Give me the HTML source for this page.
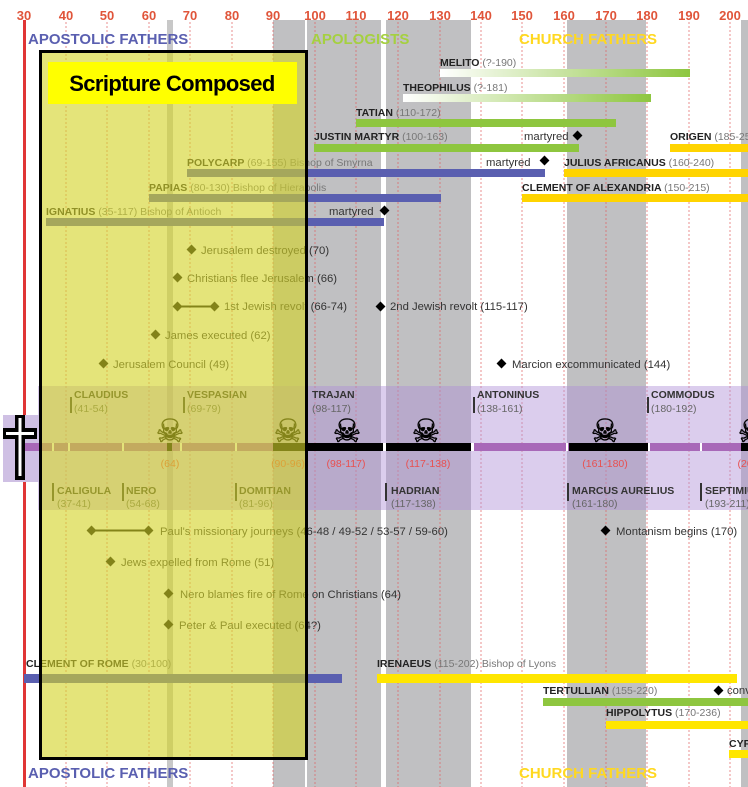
<!DOCTYPE html>
<html><head><meta charset="utf-8"><style>
html,body{margin:0;padding:0;background:#fff;width:748px;height:787px;overflow:hidden}
svg{display:block;font-family:"Liberation Sans",sans-serif}
.n{font-size:10.5px;font-weight:bold;fill:#222}
.d{font-weight:normal;fill:#777}
.e{font-size:11.3px;fill:#333}
.emp{font-size:10.5px;font-weight:bold;fill:#333}
.ed{font-size:10.5px;fill:#666}
.yr{font-size:13px;font-weight:bold;fill:#e0553a}
.pr{font-size:10.5px;fill:#e85050}
</style></head><body>
<svg width="748" height="787" viewBox="0 0 748 787" xmlns="http://www.w3.org/2000/svg">
<g fill="#c0c0c2">
<rect x="273" y="20" width="32" height="767"/>
<rect x="307" y="20" width="74" height="767"/>
<rect x="386" y="20" width="85" height="767"/>
<rect x="567" y="20" width="79" height="767"/>
<rect x="741" y="20" width="7" height="767"/>
</g>
<rect x="167" y="20" width="6" height="767" fill="#c8c8c8"/>
<g stroke="#e06060" stroke-width="1" stroke-dasharray="2,2" opacity="0.7">
<line x1="66" y1="22" x2="66" y2="787"/><line x1="107" y1="22" x2="107" y2="787"/>
<line x1="149" y1="22" x2="149" y2="787"/><line x1="190" y1="22" x2="190" y2="787"/>
<line x1="232" y1="22" x2="232" y2="787"/><line x1="273" y1="22" x2="273" y2="787"/>
<line x1="315" y1="22" x2="315" y2="787"/><line x1="356" y1="22" x2="356" y2="787"/>
<line x1="398" y1="22" x2="398" y2="787"/><line x1="440" y1="22" x2="440" y2="787"/>
<line x1="481" y1="22" x2="481" y2="787"/><line x1="522" y1="22" x2="522" y2="787"/>
<line x1="564" y1="22" x2="564" y2="787"/><line x1="606" y1="22" x2="606" y2="787"/>
<line x1="647" y1="22" x2="647" y2="787"/><line x1="689" y1="22" x2="689" y2="787"/>
<line x1="730" y1="22" x2="730" y2="787"/>
</g>
<rect x="23" y="20" width="3" height="767" fill="#e03535"/>
<g class="yr" text-anchor="middle">
<text x="24" y="20">30</text><text x="66" y="20">40</text><text x="107" y="20">50</text><text x="149" y="20">60</text><text x="190" y="20">70</text><text x="232" y="20">80</text><text x="273" y="20">90</text><text x="315" y="20">100</text><text x="356" y="20">110</text><text x="398" y="20">120</text><text x="440" y="20">130</text><text x="481" y="20">140</text><text x="522" y="20">150</text><text x="564" y="20">160</text><text x="606" y="20">170</text><text x="647" y="20">180</text><text x="689" y="20">190</text><text x="730" y="20">200</text>
</g>
<g font-size="15" font-weight="bold">
<text x="28" y="44" fill="#5a5fb0">APOSTOLIC FATHERS</text>
<text x="311" y="44" fill="#a5d040">APOLOGISTS</text>
<text x="519" y="44" fill="#ffd820">CHURCH FATHERS</text>
<text x="28" y="778" fill="#5a5fb0">APOSTOLIC FATHERS</text>
<text x="519" y="778" fill="#ffd820">CHURCH FATHERS</text>
</g>
<defs><linearGradient id="gg" x1="0" x2="1"><stop offset="0" stop-color="#fff"/><stop offset="1" stop-color="#8ec63f"/></linearGradient></defs>
<text class="n" x="440" y="66">MELITO <tspan class="d">(?-190)</tspan></text>
<rect x="440" y="69" width="250" height="8" fill="url(#gg)"/>
<text class="n" x="403" y="91">THEOPHILUS <tspan class="d">(?-181)</tspan></text>
<rect x="403" y="94" width="248" height="8" fill="url(#gg)"/>
<text class="n" x="356" y="116">TATIAN <tspan class="d">(110-172)</tspan></text>
<rect x="356" y="119" width="260" height="8" fill="#8ec63f"/>
<text class="n" x="314" y="140">JUSTIN MARTYR <tspan class="d">(100-163)</tspan></text>
<rect x="314" y="144" width="265" height="8" fill="#8ec63f"/>
<text class="e" x="524" y="140" fill="#555">martyred</text>
<rect x="574" y="132" width="7" height="7" transform="rotate(45 577.5 135.5)" fill="#000"/>
<text class="n" x="670" y="140">ORIGEN <tspan class="d">(185-254)</tspan></text>
<rect x="670" y="144" width="78" height="8" fill="#ffd400"/>
<text class="n" x="187" y="166">POLYCARP <tspan class="d">(69-155) Bishop of Smyrna</tspan></text>
<rect x="187" y="169" width="358" height="8" fill="#5a5fb0"/>
<text class="e" x="486" y="166" fill="#555">martyred</text>
<rect x="541" y="157" width="7" height="7" transform="rotate(45 544.5 160.5)" fill="#000"/>
<text class="n" x="564" y="166">JULIUS AFRICANUS <tspan class="d">(160-240)</tspan></text>
<rect x="564" y="169" width="184" height="8" fill="#ffd400"/>
<text class="n" x="149" y="191">PAPIAS <tspan class="d">(80-130) Bishop of Hierapolis</tspan></text>
<rect x="149" y="194" width="292" height="8" fill="#5a5fb0"/>
<text class="n" x="522" y="191">CLEMENT OF ALEXANDRIA <tspan class="d">(150-215)</tspan></text>
<rect x="522" y="194" width="226" height="8" fill="#ffd400"/>
<text class="n" x="46" y="215">IGNATIUS <tspan class="d">(35-117) Bishop of Antioch</tspan></text>
<rect x="46" y="218" width="338" height="8" fill="#5a5fb0"/>
<text class="e" x="329" y="215" fill="#555">martyred</text>
<rect x="381" y="207" width="7" height="7" transform="rotate(45 384.5 210.5)" fill="#000"/>
<g fill="#000">
<rect x="188" y="246" width="7" height="7" transform="rotate(45 191.5 249.5)"/>
<rect x="174" y="274" width="7" height="7" transform="rotate(45 177.5 277.5)"/>
<rect x="174" y="303" width="7" height="7" transform="rotate(45 177.5 306.5)"/>
<rect x="211" y="303" width="7" height="7" transform="rotate(45 214.5 306.5)"/>
<rect x="176" y="305.5" width="38" height="2"/>
<rect x="377" y="303" width="7" height="7" transform="rotate(45 380.5 306.5)"/>
<rect x="152" y="331" width="7" height="7" transform="rotate(45 155.5 334.5)"/>
<rect x="100" y="360" width="7" height="7" transform="rotate(45 103.5 363.5)"/>
<rect x="498" y="360" width="7" height="7" transform="rotate(45 501.5 363.5)"/>
<rect x="88" y="527" width="7" height="7" transform="rotate(45 91.5 530.5)"/>
<rect x="145" y="527" width="7" height="7" transform="rotate(45 148.5 530.5)"/>
<rect x="90" y="529.5" width="58" height="2"/>
<rect x="602" y="527" width="7" height="7" transform="rotate(45 605.5 530.5)"/>
<rect x="107" y="558" width="7" height="7" transform="rotate(45 110.5 561.5)"/>
<rect x="165" y="590" width="7" height="7" transform="rotate(45 168.5 593.5)"/>
<rect x="165" y="621" width="7" height="7" transform="rotate(45 168.5 624.5)"/>
<rect x="715" y="687" width="7" height="7" transform="rotate(45 718.5 690.5)"/>
</g>
<g class="e">
<text x="201" y="254">Jerusalem destroyed (70)</text>
<text x="187" y="282">Christians flee Jerusalem (66)</text>
<text x="224" y="310">1st Jewish revolt (66-74)</text>
<text x="390" y="310">2nd Jewish revolt (115-117)</text>
<text x="165" y="339">James executed (62)</text>
<text x="113" y="368">Jerusalem Council (49)</text>
<text x="512" y="368">Marcion excommunicated (144)</text>
<text x="160" y="535">Paul's missionary journeys (46-48 / 49-52 / 53-57 / 59-60)</text>
<text x="616" y="535">Montanism begins (170)</text>
<text x="121" y="566">Jews expelled from Rome (51)</text>
<text x="180" y="598">Nero blames fire of Rome on Christians (64)</text>
<text x="179" y="629">Peter &amp; Paul executed (64?)</text>
<text x="727" y="694">conv</text>
</g>
<text class="n" x="26" y="667">CLEMENT OF ROME <tspan class="d">(30-100)</tspan></text>
<rect x="24" y="674" width="318" height="9" fill="#5a5fb0"/>
<text class="n" x="377" y="667">IRENAEUS <tspan class="d">(115-202) Bishop of Lyons</tspan></text>
<rect x="377" y="674" width="360" height="9" fill="#ffe600"/>
<text class="n" x="543" y="694">TERTULLIAN <tspan class="d">(155-220)</tspan></text>
<rect x="543" y="698" width="205" height="8" fill="#8ec63f"/>
<text class="n" x="606" y="716">HIPPOLYTUS <tspan class="d">(170-236)</tspan></text>
<rect x="606" y="721" width="142" height="8" fill="#ffe600"/>
<text class="n" x="729" y="747">CYP</text>
<rect x="729" y="750" width="19" height="8" fill="#ffe600"/>
<rect x="38" y="386" width="710" height="124" fill="rgba(175,145,215,0.45)"/>
<rect x="3" y="415" width="37" height="67" fill="#cfc0e4"/>
<rect x="24" y="443" width="724" height="8" fill="#a868b8"/>
<g fill="#fff"><rect x="52" y="443" width="2" height="8"/><rect x="68" y="443" width="2" height="8"/><rect x="122" y="443" width="2" height="8"/><rect x="180" y="443" width="2" height="8"/><rect x="235" y="443" width="2" height="8"/><rect x="383" y="443" width="3" height="8"/><rect x="471" y="443" width="3" height="8"/><rect x="566" y="443" width="2" height="8"/><rect x="648" y="443" width="2" height="8"/><rect x="700" y="443" width="2" height="8"/></g>
<g fill="#000"><rect x="167" y="443" width="5" height="8"/><rect x="273" y="443" width="32" height="8"/><rect x="306" y="443" width="77" height="8"/><rect x="386" y="443" width="85" height="8"/><rect x="569" y="443" width="79" height="8"/><rect x="741" y="443" width="7" height="8"/></g>
<g><rect x="15" y="415" width="10" height="65" fill="#000"/><rect x="3" y="428" width="34" height="11" fill="#000"/>
<rect x="18.5" y="418" width="3" height="58" fill="#fff"/><rect x="6" y="432" width="28" height="3" fill="#fff"/></g>
<g fill="#333">
<rect x="70" y="397" width="2" height="16"/><rect x="183" y="397" width="2" height="16"/><rect x="473" y="397" width="2" height="16"/><rect x="647" y="397" width="2" height="16"/>
<rect x="52" y="483" width="2" height="18"/><rect x="122" y="483" width="2" height="18"/><rect x="235" y="483" width="2" height="18"/><rect x="385" y="483" width="2" height="18"/><rect x="567" y="483" width="2" height="18"/><rect x="700" y="483" width="2" height="18"/>
</g>
<g class="emp"><text x="74" y="398">CLAUDIUS</text><text x="187" y="398">VESPASIAN</text><text x="312" y="398">TRAJAN</text><text x="477" y="398">ANTONINUS</text><text x="651" y="398">COMMODUS</text>
<text x="57" y="494">CALIGULA</text><text x="126" y="494">NERO</text><text x="239" y="494">DOMITIAN</text><text x="391" y="494">HADRIAN</text><text x="572" y="494">MARCUS AURELIUS</text><text x="705" y="494">SEPTIMIUS</text></g>
<g class="ed"><text x="74" y="412">(41-54)</text><text x="187" y="412">(69-79)</text><text x="312" y="412">(98-117)</text><text x="477" y="412">(138-161)</text><text x="651" y="412">(180-192)</text>
<text x="57" y="507">(37-41)</text><text x="126" y="507">(54-68)</text><text x="239" y="507">(81-96)</text><text x="391" y="507">(117-138)</text><text x="572" y="507">(161-180)</text><text x="705" y="507">(193-211)</text></g>
<g font-family="DejaVu Sans,sans-serif" font-size="32" font-weight="bold" text-anchor="middle" fill="#000" stroke="#000" stroke-width="0.6">
<text x="170" y="442">☠</text><text x="288" y="442">☠</text><text x="347" y="442">☠</text><text x="426" y="442">☠</text><text x="605" y="442">☠</text><text x="752" y="442">☠</text></g>
<g class="pr" text-anchor="middle"><text x="170" y="467">(64)</text><text x="288" y="467">(90-96)</text><text x="346" y="467">(98-117)</text><text x="428" y="467">(117-138)</text><text x="605" y="467">(161-180)</text><text x="748" y="467">(202</text></g>
<rect x="40.5" y="51.5" width="266" height="707" fill="rgba(212,212,40,0.62)" stroke="#000" stroke-width="3"/>
<rect x="48" y="62" width="249" height="42" fill="#ffff00"/>
<text x="172" y="91" text-anchor="middle" font-size="22" font-weight="bold" fill="#000" letter-spacing="-0.6">Scripture Composed</text>
</svg>
</body></html>
